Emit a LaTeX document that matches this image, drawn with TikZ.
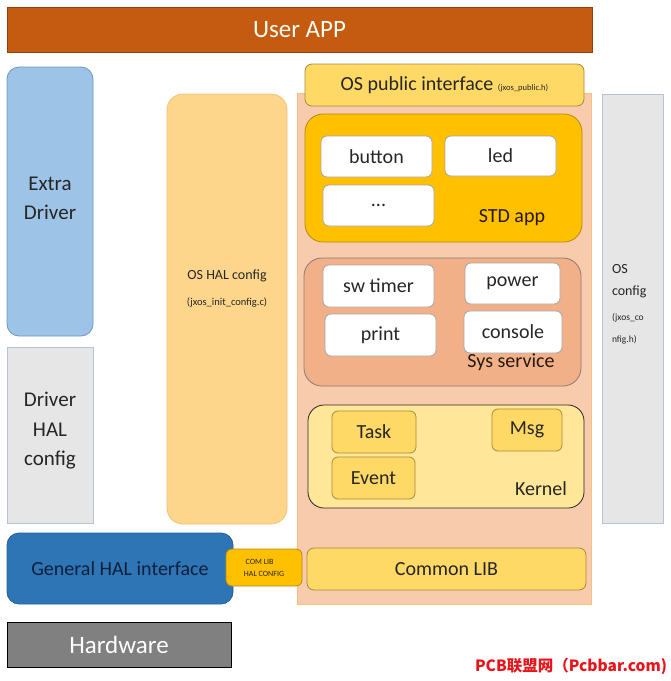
\documentclass[tikz,border=0pt]{standalone}
\usepackage{fontspec}
\setmainfont{Carlito}
\newfontfamily\cjk{Noto Sans CJK SC}
\usepackage{tikz}
\usetikzlibrary{positioning}
\usepackage{xcolor}
\definecolor{appbrown}{HTML}{C55A11}
\definecolor{appedge}{HTML}{8E3F0B}
\definecolor{drvblue}{HTML}{9DC3E6}
\definecolor{drvedge}{HTML}{6A99C8}
\definecolor{cfggray}{HTML}{E7E6E6}
\definecolor{cfgedge}{HTML}{B4C4D6}
\definecolor{halsand}{HTML}{FDD68C}
\definecolor{haledge}{HTML}{F2C274}
\definecolor{ospeach}{HTML}{F8CBAD}
\definecolor{osedge}{HTML}{F2C27E}
\definecolor{goldfill}{HTML}{FFD966}
\definecolor{goldedge}{HTML}{A88A3A}
\definecolor{ambfill}{HTML}{FFC000}
\definecolor{ambedge}{HTML}{B58A10}
\definecolor{svcfill}{HTML}{F2B089}
\definecolor{svcedge}{HTML}{8C7B72}
\definecolor{kernfill}{HTML}{FFE699}
\definecolor{halblue}{HTML}{2E75B6}
\definecolor{haledgeb}{HTML}{2A5F93}
\definecolor{navytext}{HTML}{0F1F3A}
\definecolor{hwgray}{HTML}{808080}
\definecolor{darktext}{HTML}{262626}
\definecolor{marksred}{HTML}{E8141B}
\newcommand{\fs}[2]{\fontsize{#1}{#2}\selectfont}

\begin{document}
\begin{tikzpicture}[x=1pt, y=-1pt,
  every node/.style={inner sep=0pt, outer sep=0pt, text=darktext},
  block/.style={draw, line width=0.8pt, align=center},
  whitebox/.style={block, draw=gray!70, fill=white, rounded corners=6pt,
    font=\fs{20}{24}},
  kernbox/.style={block, draw=goldedge, fill=goldfill, rounded corners=6pt,
    font=\fs{20}{24}},
  caption/.style={font=\fs{20}{24}}
  ]
  \useasboundingbox (0,0) rectangle (671,681);

  % top and bottom layers
  \node[block, draw=appedge, fill=appbrown, minimum width=585pt, minimum height=45pt,
    font=\fs{25}{30}, text=white!95!yellow] (userapp) at (299.5,29.5) {User APP};
  \node[block, draw=black, fill=hwgray, minimum width=224pt, minimum height=45pt,
    font=\fs{25}{30}, text=white] (hardware) at (119,644.5) {Hardware};
  \node[block, draw=haledgeb, fill=halblue, rounded corners=12pt, minimum width=226pt,
    minimum height=71pt, font=\fs{20}{24}, text=navytext] (genhal) at (120,568.5)
    {General HAL interface};

  % left column
  \node[block, draw=drvedge, fill=drvblue, rounded corners=12pt, minimum width=86pt,
    minimum height=269pt] (extradrv) at (50,201.5) {};
  \node[align=center, font=\fs{21}{29}] (extratxt) at (50,198) {Extra\\Driver};
  \node[block, draw=cfgedge, fill=cfggray, minimum width=86pt, minimum height=176pt]
    (drvhal) at (50,435) {};
  \node[align=center, font=\fs{21}{29.5}] (drvtxt) at (50,431) {Driver\\HAL\\config};

  \node[block, draw=haledge, fill=halsand, rounded corners=16pt, minimum width=120pt,
    minimum height=430pt] (oshal) at (227,309) {};
  \node[align=center, font=\fs{14}{17}] (oshaltxt) at (227,289)
    {OS HAL config\\[9pt]{\fs{10.5}{12}(jxos\_init\_config.c)}};

  % OS body
  \node[block, draw=osedge, fill=ospeach, minimum width=294pt, minimum height=511pt]
    (osbody) at (444,348.5) {};
  \node[block, draw=goldedge, fill=goldfill, rounded corners=7pt, minimum width=279pt,
    minimum height=42pt, font=\fs{20}{24}] (ospub) at (444.5,85)
    {OS public interface {\fs{8.5}{10}(jxos\_public.h)}};

  \node[block, draw=ambedge, fill=ambfill, rounded corners=18pt, minimum width=277pt,
    minimum height=128pt] (stdapp) at (443.5,178) {};
  \node[whitebox, minimum width=111pt, minimum height=41pt] (button) at (376.5,156.5) {button};
  \node[whitebox, minimum width=111pt, minimum height=40pt] (led) at (500.5,156) {led};
  \node[whitebox, minimum width=111pt, minimum height=41pt] (more) at (378.5,205.5) {...};
  \node[caption, text=black!80!brown] (stdtxt) at (512,218) {STD app};

  \node[block, draw=svcedge, fill=svcfill, rounded corners=18pt, minimum width=277pt,
    minimum height=128pt] (syssvc) at (442.5,322) {};
  \node[whitebox, minimum width=111pt, minimum height=42pt] (swtimer) at (378.5,286) {sw timer};
  \node[whitebox, minimum width=95pt, minimum height=41pt] (power) at (512.5,283.5) {power};
  \node[whitebox, minimum width=111pt, minimum height=42pt] (print) at (380.5,335) {print};
  \node[whitebox, minimum width=98pt, minimum height=42pt] (console) at (513,332) {console};
  \node[caption, text=black!80!brown] (svctxt) at (511,362) {Sys service};

  \node[block, draw=darktext, fill=kernfill, rounded corners=16pt, minimum width=276pt,
    minimum height=103pt] (kernel) at (446,456.5) {};
  \node[kernbox, minimum width=84pt, minimum height=42pt] (task) at (374,432) {Task};
  \node[kernbox, minimum width=70pt, minimum height=42pt] (msg) at (527,430) {Msg};
  \node[kernbox, minimum width=83pt, minimum height=42pt] (event) at (373.5,478) {Event};
  \node[caption] (kerntxt) at (541,489) {Kernel};

  \node[block, draw=goldedge, fill=goldfill, rounded corners=7pt, minimum width=279pt,
    minimum height=42pt, font=\fs{20}{24}] (comlib) at (446.5,569) {Common LIB};
  \node[block, draw=ambedge, fill=ambfill, rounded corners=6pt, minimum width=76pt,
    minimum height=37pt, font=\fs{8}{12}] (comhal) at (264,567.5)
    {COM LIB\phantom{NF}\\HAL CONFIG};

  % right column
  \node[block, draw=cfgedge, fill=cfggray, minimum width=61pt, minimum height=429pt]
    (oscfg) at (632.5,308.5) {};
  \node[anchor=north west, align=left, font=\fs{14}{22}] (oscfgtxt) at (612,264)
    {OS\\config\\[3pt]{\fs{9.5}{15}(jxos\_co}\\{\fs{9.5}{15}nfig.h)}};

  % site mark
  \node[anchor=east, font=\cjk\bfseries\fs{15.5}{18}, text=marksred] (sitemark) at (667,666)
    {PCB联盟网（Pcbbar.com)};
\end{tikzpicture}
\end{document}
